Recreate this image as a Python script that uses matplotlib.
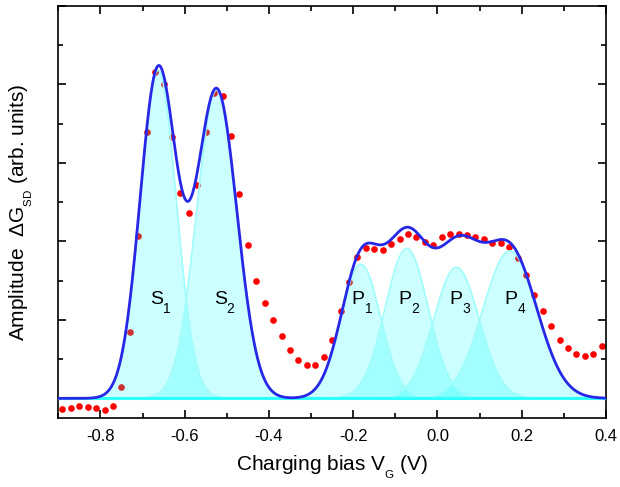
import numpy as np
import matplotlib
matplotlib.use("Agg")
import matplotlib.pyplot as plt
import matplotlib._mathtext as mtext

plt.rcParams['font.family'] = ['Liberation Sans', 'DejaVu Sans']
plt.rcParams['mathtext.fontset'] = 'custom'
plt.rcParams['mathtext.rm'] = 'Liberation Sans'
plt.rcParams['mathtext.it'] = 'Liberation Sans'
plt.rcParams['axes.unicode_minus'] = False

# smaller, lower subscripts in the axis labels (like the original figure)
try:
    mtext.SHRINK_FACTOR = 0.55
    mtext.FontConstantsBase.sub1 = 0.75
except Exception:
    pass

# Measured points (charging bias in V, amplitude in arb. units)
bias = [-0.89, -0.87, -0.85, -0.83, -0.81, -0.79, -0.77, -0.75, -0.73, -0.71,
        -0.69, -0.67, -0.65, -0.63, -0.61, -0.59, -0.57, -0.55, -0.53, -0.51,
        -0.49, -0.47, -0.45, -0.43, -0.41, -0.39, -0.37, -0.35, -0.33, -0.31,
        -0.29, -0.27, -0.25, -0.23, -0.21, -0.19, -0.17, -0.15, -0.13, -0.11,
        -0.09, -0.07, -0.05, -0.03, -0.01, 0.01, 0.03, 0.05, 0.07, 0.09,
        0.11, 0.13, 0.15, 0.17, 0.19, 0.21, 0.23, 0.25, 0.27, 0.29,
        0.31, 0.33, 0.35, 0.37, 0.39]
amplitude = [-0.14, -0.12, -0.10, -0.11, -0.12, -0.15, -0.10, 0.14, 0.84, 2.07,
             3.40, 4.16, 4.01, 3.33, 2.62, 2.36, 2.72, 3.40, 3.89, 3.85,
             3.34, 2.61, 1.95, 1.50, 1.21, 1.00, 0.80, 0.62, 0.49, 0.42,
             0.42, 0.53, 0.75, 1.11, 1.48, 1.80, 1.92, 1.90, 1.89, 1.97,
             2.03, 2.09, 2.05, 1.99, 1.96, 2.05, 2.10, 2.09, 2.08, 2.06,
             2.03, 1.98, 1.98, 1.93, 1.79, 1.57, 1.32, 1.11, 0.92, 0.75,
             0.64, 0.57, 0.54, 0.57, 0.67]

# Gaussian fit components
peak_names = ['S', 'S', 'P', 'P', 'P', 'P']
peak_index = ['1', '2', '1', '2', '3', '4']
peak_center = [-0.663, -0.524, -0.182, -0.073, 0.045, 0.172]
peak_height = [4.18, 3.93, 1.71, 1.91, 1.67, 1.88]
peak_sigma = [0.043, 0.048, 0.047, 0.051, 0.054, 0.064]
label_x = [-0.682, -0.531, -0.2035, -0.093, 0.029, 0.160]

xticks = [-0.8, -0.6, -0.4, -0.2, 0.0, 0.2, 0.4]
xticklabels = ['-0.8', '-0.6', '-0.4', '-0.2', '0.0', '0.2', '0.4']

fig = plt.figure(figsize=(6.2, 4.87), dpi=100)
ax = fig.add_axes([0.094, 0.1417, 0.8834, 0.846])

xs = np.linspace(-0.9, 0.4, 1000)
total = np.zeros_like(xs)

ax.plot(bias, amplitude, 'o', color='#ff0000', markersize=4.8,
        markeredgewidth=0, zorder=1)

for c, h, s in zip(peak_center, peak_height, peak_sigma):
    g = h * np.exp(-(xs - c) ** 2 / (2 * s ** 2))
    total += g
    ax.fill_between(xs, 0, g, color='#00ffff', alpha=0.2, linewidth=0, zorder=2)
    ax.plot(xs, g, color='#9ffcfc', lw=1.2, zorder=2.5)

ax.axhline(0, color='#30ffff', lw=2.2, zorder=3)
ax.plot(xs, total, color='#2727e6', lw=2, zorder=4)

# peak labels with lowered subscripts
for n, i, lx in zip(peak_names, peak_index, label_x):
    ax.text(lx, 1.2, n, fontsize=14, ha='left', va='baseline', zorder=5)
    ax.annotate(i, xy=(lx, 1.2), xytext=(9.3, -6), textcoords='offset points',
                fontsize=10, ha='left', va='baseline', zorder=5)

ax.set_xlim(-0.9, 0.4)
ax.set_ylim(-0.25, 5)
ax.set_xticks(xticks)
ax.set_xticklabels(xticklabels)
ax.set_xticks(np.arange(-0.9, 0.41, 0.1), minor=True)
ax.set_yticks(np.arange(0, 5.1, 1))
ax.set_yticks(np.arange(0.5, 5, 1), minor=True)
ax.set_yticklabels([])
ax.tick_params(which='both', direction='in', top=True, right=True, width=1.2)
ax.tick_params(which='major', length=6, labelsize=12, pad=8)
ax.tick_params(which='minor', length=3.5)
for sp in ax.spines.values():
    sp.set_linewidth(1.2)

ax.set_xlabel(r'Charging bias V$_{\mathregular{G}}$ (V)', fontsize=15, labelpad=7)
ax.set_ylabel('Amplitude  ΔG$_{\mathregular{SD}}$ (arb. units)', fontsize=15, labelpad=9)

fig.savefig('out.png', dpi=100)
